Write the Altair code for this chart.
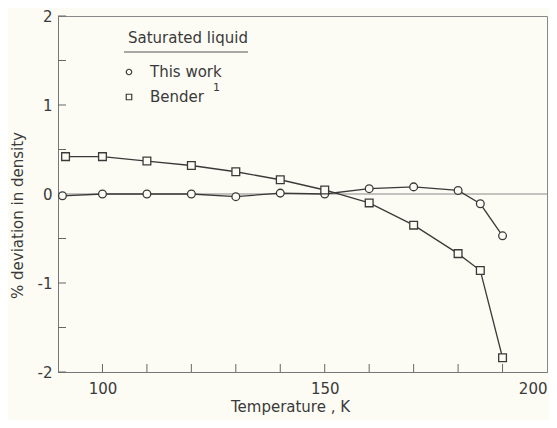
import altair as alt
import pandas as pd

# Data
this_work_T = [91, 100, 110, 120, 130, 140, 150, 160, 170, 180, 185, 190]
this_work_dev = [-0.02, 0.0, 0.0, 0.0, -0.03, 0.01, 0.0, 0.06, 0.08, 0.04, -0.11, -0.47]

bender_T = [91.7, 100, 110, 120, 130, 140, 150, 160, 170, 180, 185, 190]
bender_dev = [0.42, 0.42, 0.37, 0.32, 0.25, 0.16, 0.045, -0.10, -0.35, -0.67, -0.86, -1.84]

x_tick_values = [100, 110, 120, 130, 140, 150, 160, 170, 180, 190]
x_label_values = [100, 150, 200]
y_tick_values = [-2, -1.5, -1, -0.5, 0, 0.5, 1, 1.5, 2]
y_label_values = [-2, -1, 0, 1, 2]

legend_title = "Saturated liquid"
legend_labels = ["This work", "Bender"]
bender_ref = "1"

FONT = "DejaVu Sans"
INK = "#3a3a3a"
BG = "#fcfcf5"

W, H = 489, 356

df_tw = pd.DataFrame({"T": this_work_T, "dev": this_work_dev})
df_b = pd.DataFrame({"T": bender_T, "dev": bender_dev})

xs = alt.Scale(domain=[90, 200], nice=False, zero=False)
ys = alt.Scale(domain=[-2, 2], nice=False, zero=False)

x_axis = alt.Axis(values=x_label_values, tickSize=0, labelFlush=True, grid=False,
                  domainColor="#777", labelFont=FONT, labelFontSize=15, labelColor=INK,
                  labelPadding=9, title="Temperature , K", titleFont=FONT,
                  titleFontSize=15, titleFontWeight="normal", titleColor=INK,
                  titlePadding=3, titleX=232)
y_axis = alt.Axis(values=y_label_values, tickSize=0, grid=False, domainColor="#777",
                  labelExpr="replace(datum.label, '\u2212', '-')",
                  labelFont=FONT, labelFontSize=15, labelColor=INK, labelPadding=6,
                  title="% deviation in density", titleFont=FONT, titleFontSize=15,
                  titleFontWeight="normal", titleColor=INK, titleX=-41, titleY=199,
                  titleAlign="center", titleBaseline="middle")

def X(field):
    return alt.X(field, scale=xs, axis=x_axis)

def Y(field):
    return alt.Y(field, scale=ys, axis=y_axis)

zero_line = alt.Chart(pd.DataFrame({"z": [0]})).mark_rule(color="#888", strokeWidth=1).encode(
    y=Y("z:Q")
)

xticks = alt.Chart(pd.DataFrame({"t": x_tick_values})).mark_rule(color="#666", strokeWidth=1).encode(
    x=X("t:Q"), y=alt.value(H), y2=alt.value(H - 8)
)
yticks = alt.Chart(pd.DataFrame({"t": y_tick_values})).mark_rule(color="#666", strokeWidth=1).encode(
    y=Y("t:Q"), x=alt.value(0), x2=alt.value(8)
)

def series(df, shape):
    line = alt.Chart(df).mark_line(color=INK, strokeWidth=1.3).encode(
        x=X("T:Q"), y=Y("dev:Q")
    )
    pts = alt.Chart(df).mark_point(shape=shape, size=60, filled=True, fill=BG,
                                   stroke=INK, strokeWidth=1.3, opacity=1).encode(
        x=X("T:Q"), y=Y("dev:Q")
    )
    return line + pts

tw = series(df_tw, "circle")
bd = series(df_b, "square")

# Legend drawn by hand
lt = alt.Chart(pd.DataFrame({"s": [legend_title]})).mark_text(
    font=FONT, fontSize=15, color=INK, align="left", baseline="middle"
).encode(text="s:N", x=alt.value(70), y=alt.value(22))
lu = alt.Chart(pd.DataFrame({"s": [legend_title]})).mark_rule(color="#555", strokeWidth=1.2).encode(
    x=alt.value(66), x2=alt.value(190), y=alt.value(36)
)
l1s = alt.Chart(pd.DataFrame({"s": [legend_labels[0]]})).mark_point(
    shape="circle", size=30, stroke=INK, strokeWidth=1.2, opacity=1
).encode(x=alt.value(71), y=alt.value(56))
l1t = alt.Chart(pd.DataFrame({"s": [legend_labels[0]]})).mark_text(
    font=FONT, fontSize=15, color=INK, align="left", baseline="middle"
).encode(text="s:N", x=alt.value(92), y=alt.value(56))
l2s = alt.Chart(pd.DataFrame({"s": [legend_labels[1]]})).mark_point(
    shape="square", size=30, stroke=INK, strokeWidth=1.2, opacity=1
).encode(x=alt.value(71), y=alt.value(81))
l2t = alt.Chart(pd.DataFrame({"s": [legend_labels[1]]})).mark_text(
    font=FONT, fontSize=15, color=INK, align="left", baseline="middle"
).encode(text="s:N", x=alt.value(92), y=alt.value(81))
l2r = alt.Chart(pd.DataFrame({"s": [bender_ref]})).mark_text(
    font=FONT, fontSize=11, color=INK, align="left", baseline="middle"
).encode(text="s:N", x=alt.value(155), y=alt.value(72))

chart = alt.layer(
    zero_line, xticks, yticks, tw, bd, lt, lu, l1s, l1t, l2s, l2t, l2r
).properties(
    width=W, height=H,
    autosize=alt.AutoSizeParams(type="none"),
    padding={"left": 50, "top": 8, "right": 2, "bottom": 48},
    background=BG,
).configure_view(stroke="#888", strokeWidth=1)

chart.save("out.html", embed_options={"renderer": "svg", "actions": False})
